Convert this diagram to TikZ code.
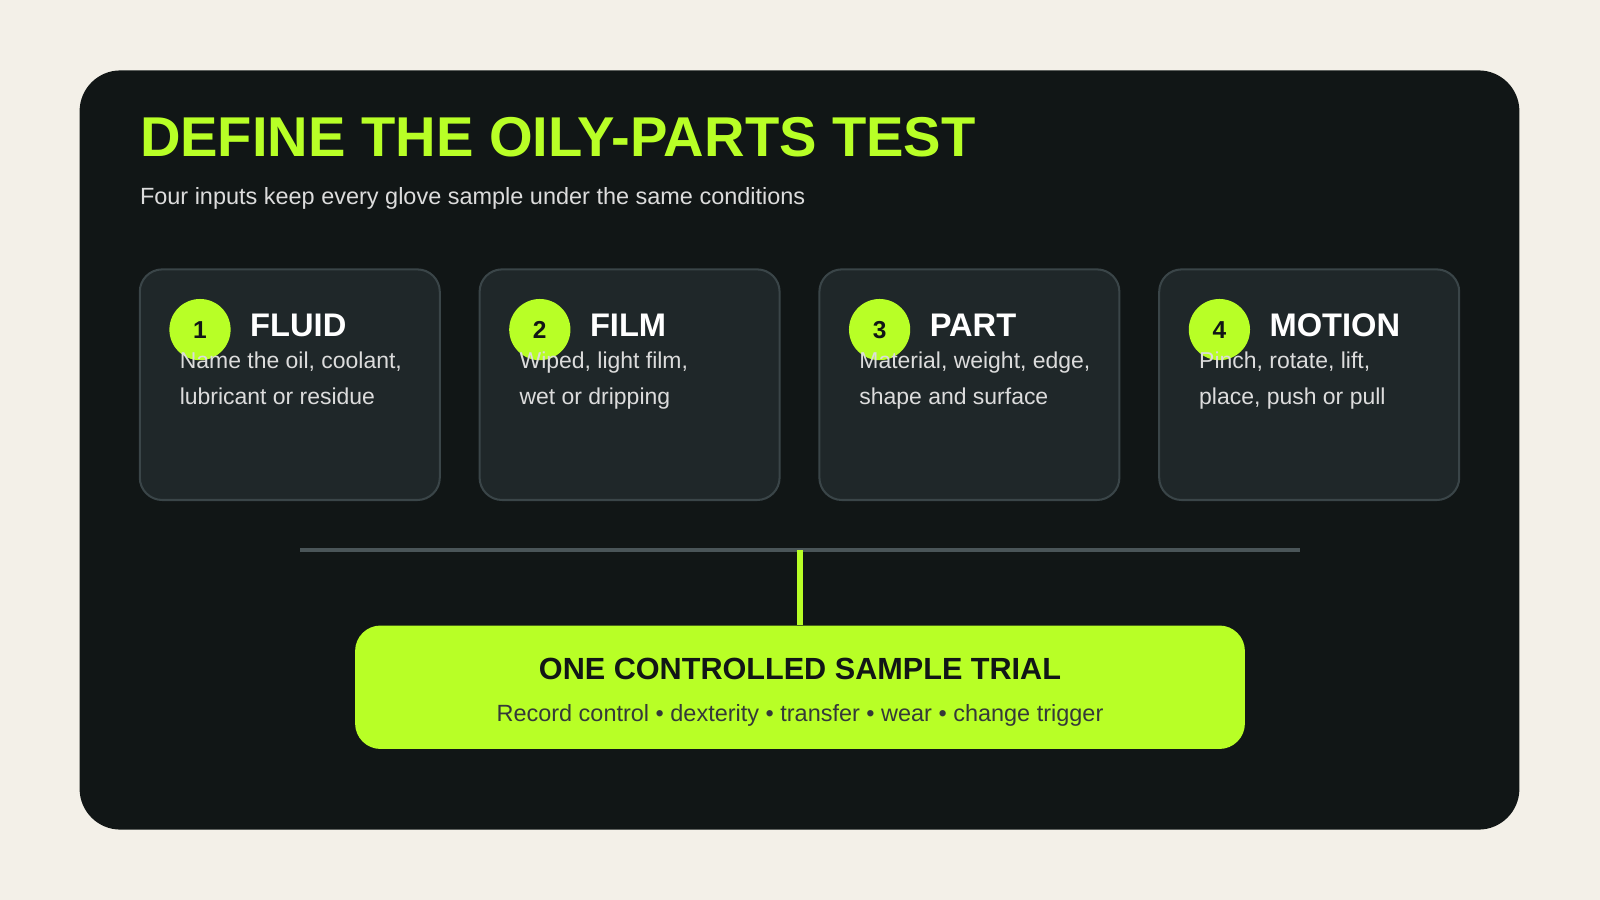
\documentclass[tikz,border=0pt]{standalone}
\usepackage{fontspec}
\setmainfont{Liberation Sans}
\definecolor{bg}{HTML}{F3F0E8}
\definecolor{panel}{HTML}{111616}
\definecolor{card}{HTML}{1F2729}
\definecolor{cardline}{HTML}{3A4548}
\definecolor{lime}{HTML}{B8FF26}
\definecolor{soft}{HTML}{DCDCDC}
\definecolor{rule}{HTML}{4A5558}
\begin{document}
\begin{tikzpicture}[x=1pt,y=-1pt,
  card/.style={draw=cardline,line width=2pt,fill=card,rounded corners=22pt},
  num/.style={circle,fill=lime,minimum size=60pt,inner sep=0pt,font=\fontsize{24}{24}\selectfont\bfseries,text=panel},
  head/.style={anchor=base west,inner sep=0pt,font=\fontsize{32}{32}\selectfont\bfseries,text=white},
  body/.style={anchor=base west,inner sep=0pt,align=left,font=\fontsize{22.5}{35}\selectfont,text=soft}]
\fill[bg] (0,0) rectangle (1568,882);
\useasboundingbox (0,0) rectangle (1568,882);
\fill[panel,rounded corners=40pt] (78,69) rectangle (1489,813);
\node[anchor=base west,inner sep=0pt,text=lime,font=\fontsize{55}{55}\selectfont\bfseries] (title) at (137,153) {DEFINE THE OILY-PARTS TEST};
\node[anchor=base west,inner sep=0pt,text=soft,font=\fontsize{23}{23}\selectfont] (sub) at (137,200) {Four inputs keep every glove sample under the same conditions};
\foreach \x/\n/\h/\a/\b in {137/1/FLUID/{Name the oil, coolant,}/{lubricant or residue},
  470/2/FILM/{Wiped, light film,}/{wet or dripping},
  803/3/PART/{Material, weight, edge,}/{shape and surface},
  1136/4/MOTION/{Pinch, rotate, lift,}/{place, push or pull}}{
  \draw[card] (\x,264) rectangle ++(294,226);
  \node[num] (n\n) at (\x+59,323) {\n};
  \node[head] (h\n) at (\x+108,330) {\h};
  \node[body] (b\n) at (\x+39,396) {\a\\\b};
}
\coordinate (L) at (294,539);
\coordinate (R) at (1274,539);
\coordinate (M) at (784,539);
\draw[rule,line width=4pt] (L) -- (R);
\fill[lime,rounded corners=25pt] (348,613) rectangle (1220,734);
\node[inner sep=0pt] (box) at (784,613) {};
\draw[lime,line width=5pt] (M) -- (box);
\node[anchor=base,inner sep=0pt,text=panel,font=\fontsize{30}{30}\selectfont\bfseries] (t1) at (784,666) {ONE CONTROLLED SAMPLE TRIAL};
\node[anchor=base,inner sep=0pt,text=panel!85!white,font=\fontsize{23}{23}\selectfont] (t2) at (784,707) {Record control • dexterity • transfer • wear • change trigger};
\end{tikzpicture}
\end{document}
